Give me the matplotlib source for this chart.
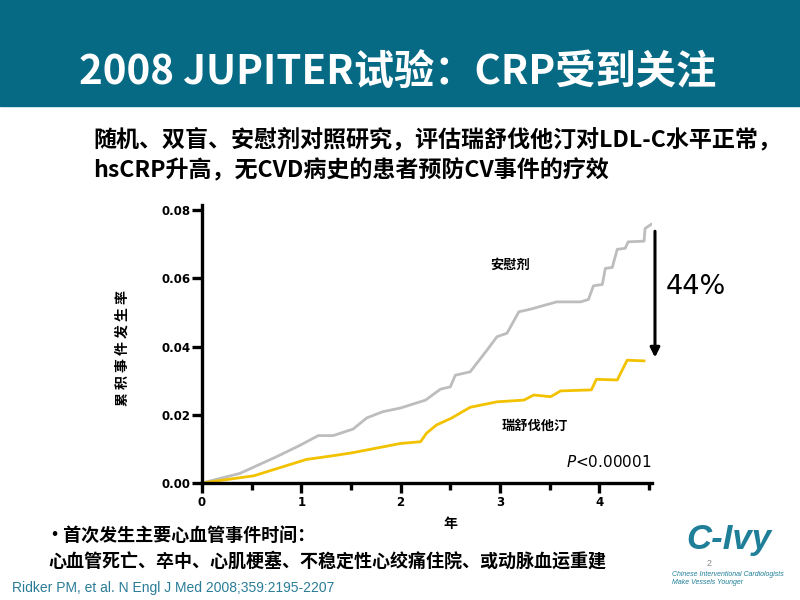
import matplotlib.pyplot as plt
from matplotlib.patches import Rectangle
from matplotlib.ticker import MultipleLocator

plt.rcParams['font.family'] = ['Noto Sans CJK SC', 'DejaVu Sans']

# cumulative incidence
placebo_years = [0, 0.38, 0.75, 0.99, 1.17, 1.32, 1.52, 1.66, 1.82, 2.0,
                 2.25, 2.40, 2.50, 2.55, 2.70, 2.87, 2.97, 3.07, 3.19, 3.30,
                 3.57, 3.81, 3.89, 3.94, 4.03, 4.06, 4.13, 4.18, 4.26, 4.29,
                 4.45, 4.46, 4.52]
placebo = [0, 0.0028, 0.0077, 0.0111, 0.0139, 0.0139, 0.0158, 0.0191,
           0.0209, 0.0220, 0.0243, 0.0275, 0.0282, 0.0316, 0.0326, 0.0390,
           0.0429, 0.0439, 0.0502, 0.0509, 0.0531, 0.0531, 0.0538, 0.0578,
           0.0582, 0.0629, 0.0632, 0.0685, 0.0688, 0.0707, 0.0709, 0.0746,
           0.0758]
rosu_years = [0, 0.52, 1.05, 1.32, 1.52, 2.0, 2.20, 2.26, 2.36, 2.51, 2.70,
              2.97, 3.24, 3.34, 3.51, 3.61, 3.92, 3.97, 4.18, 4.28, 4.45]
rosu = [0, 0.0021, 0.0069, 0.0080, 0.0089, 0.0116, 0.0121, 0.0146, 0.0170,
        0.0190, 0.0222, 0.0238, 0.0243, 0.0258, 0.0253, 0.0270, 0.0273,
        0.0304, 0.0302, 0.0360, 0.0358]
y_ticks = [0.00, 0.02, 0.04, 0.06, 0.08]
x_ticks = [0, 1, 2, 3, 4]
arrow_from, arrow_to = 0.0738, 0.0368

teal = '#066a85'

fig = plt.figure(figsize=(8, 6), dpi=100)

# header bar
fig.patches.append(Rectangle((0, 1 - 106 / 600), 1, 106 / 600,
                             transform=fig.transFigure, color=teal, zorder=0))
fig.text(0.4975, 1 - 72 / 600, '2008 JUPITER试验：CRP受到关注', color='white',
         fontsize=29, fontweight='bold', ha='center', va='center')

fig.text(93 / 800, 1 - 140 / 600,
         '随机、双盲、安慰剂对照研究，评估瑞舒伐他汀对LDL-C水平正常，',
         fontsize=16.6, fontweight='bold', va='center', ha='left')
fig.text(93 / 800, 1 - 171 / 600,
         'hsCRP升高，无CVD病史的患者预防CV事件的疗效',
         fontsize=16.6, fontweight='bold', va='center', ha='left')

# chart
ax = fig.add_axes([202 / 800, 1 - 483 / 600, 450 / 800, 278 / 600])
ax.plot(placebo_years, placebo, color='#bdbdbd', lw=2.0, solid_joinstyle='round')
ax.plot(rosu_years, rosu, color='#f2c200', lw=2.0, solid_joinstyle='round')
ax.set_xlim(0, 4.53)
ax.set_ylim(0, 0.0815)
for s in ['top', 'right']:
    ax.spines[s].set_visible(False)
for s in ['left', 'bottom']:
    ax.spines[s].set_linewidth(2.4)
ax.set_xticks(x_ticks)
ax.xaxis.set_minor_locator(MultipleLocator(0.5))
ax.set_yticks(y_ticks)
ax.set_yticklabels([f'{v:.2f}' for v in y_ticks])
ax.tick_params(axis='x', which='major', direction='out', length=7, width=2.4,
               pad=2)
ax.tick_params(axis='x', which='minor', direction='out', length=5, width=2.4)
ax.tick_params(axis='y', direction='out', length=7, width=2.4, pad=1)
for lab in ax.get_xticklabels() + ax.get_yticklabels():
    lab.set_family('DejaVu Sans')
    lab.set_fontweight('bold')
    lab.set_fontsize(8.5)

ax.text(3.1, 0.064, '安慰剂', fontsize=9.5, fontweight='bold',
        ha='center', va='center')
ax.text(3.35, 0.0167, '瑞舒伐他汀', fontsize=9.5, fontweight='bold',
        ha='center', va='center')
ax.text(4.53, 0.0063, '$P$<0.00001', fontsize=11, ha='right', va='center',
        family='DejaVu Sans')

ax.annotate('', xy=(4.56, arrow_to), xytext=(4.56, arrow_from),
            annotation_clip=False,
            arrowprops=dict(arrowstyle='-|>', color='black', lw=2.2,
                            mutation_scale=14, shrinkA=0, shrinkB=0))
ax.text(4.67, 0.0575, '44%', fontsize=19.5, ha='left', va='center',
        family='DejaVu Sans')

fig.text(123 / 800, 1 - 348 / 600, '累 积 事 件 发 生 率', rotation=90,
         fontsize=10, fontweight='bold', ha='center', va='center')
fig.text(450 / 800, 1 - 524 / 600, '年', fontsize=10, fontweight='bold',
         ha='center', va='center')

# footnotes
fig.text(45 / 800, 1 - 535 / 600, '•首次发生主要心血管事件时间：',
         fontsize=13, fontweight='bold', va='center')
fig.text(48 / 800, 1 - 561 / 600,
         '心血管死亡、卒中、心肌梗塞、不稳定性心绞痛住院、或动脉血运重建',
         fontsize=13, fontweight='bold', va='center')
fig.text(12 / 800, 1 - 588 / 600,
         'Ridker PM, et al. N Engl J Med 2008;359:2195-2207',
         fontsize=10, color='#2a7c97', family='Liberation Sans', va='center')

# logo text
fig.text(686 / 800, 1 - 540 / 600, 'C-Ivy', fontsize=25, fontweight='bold',
         fontstyle='italic', color='#1f7f98', family='Liberation Sans',
         va='center')
fig.text(707 / 800, 1 - 564 / 600, '2', fontsize=6.5, color='#8a8a8a',
         family='Liberation Sans', va='center')
fig.text(672 / 800, 1 - 574 / 600, 'Chinese Interventional Cardiologists',
         fontsize=5, fontstyle='italic', color='#1f7f98',
         family='Liberation Sans', va='center')
fig.text(672 / 800, 1 - 582 / 600, 'Make Vessels Younger',
         fontsize=5, fontstyle='italic', color='#1f7f98',
         family='Liberation Sans', va='center')

fig.savefig('out.png', dpi=100)
